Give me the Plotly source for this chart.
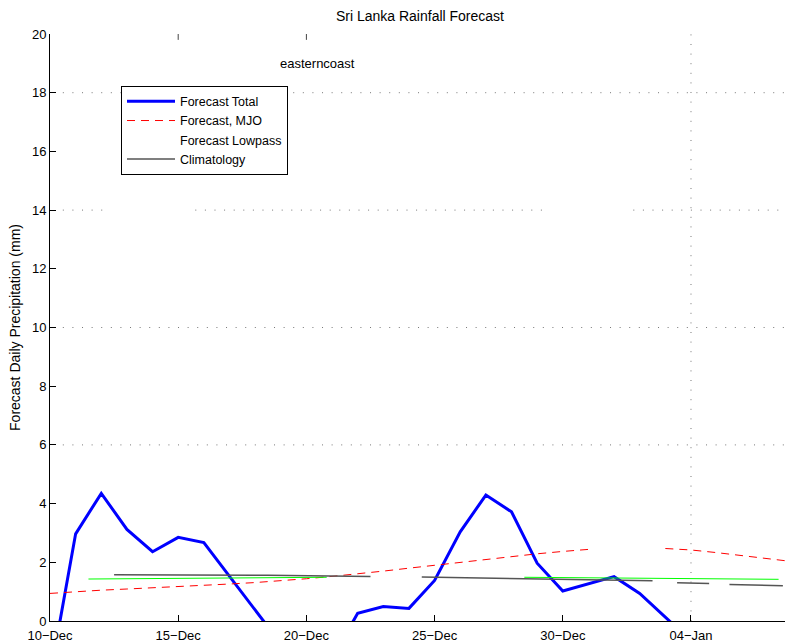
import pandas as pd
import plotly.graph_objects as go

# Daily forecast dates
dates = pd.date_range("2013-12-10", periods=30, freq="D")

# Forecast total daily precipitation (mm)
forecast_total = [-1.90, 2.97, 4.35, 3.12, 2.36, 2.85, 2.67, 1.53, 0.36, -0.77,
                  -1.50, -1.27, 0.26, 0.49, 0.43, 1.38, 3.04, 4.29, 3.72, 1.97,
                  1.02, 1.27, 1.51, 0.94, 0.12, -0.68, -1.10, -1.40, -1.60, -1.70]

# MJO component of the forecast (gaps where the curve was not drawn)
forecast_mjo = [0.94, 1.00, 1.05, 1.09, 1.13, 1.16, 1.21, 1.26, 1.31, 1.37,
                1.44, 1.52, 1.60, 1.70, 1.80, 1.90, 2.00, 2.10, 2.20, 2.29,
                2.37, 2.44, None, None, 2.47, 2.42, 2.33, 2.23, 2.12, 2.02]

# Low-pass forecast
lowpass_dates = ["2013-12-11 12:00", "2013-12-16 00:00", "2013-12-20 19:00", None,
                 "2013-12-28 12:00", "2014-01-03 06:00", "2014-01-07 10:00"]
lowpass_vals = [1.43, 1.46, 1.49, None, 1.49, 1.46, 1.42]

# Climatology
clim_dates = ["2013-12-12 12:00", "2013-12-18 12:00", "2013-12-22 12:00", None,
              "2013-12-24 12:00", "2013-12-28 12:00", "2014-01-02 12:00", None,
              "2014-01-03 11:00", "2014-01-04 17:00", None,
              "2014-01-05 12:00", "2014-01-07 14:00"]
clim_vals = [1.58, 1.56, 1.52, None, 1.50, 1.44, 1.37, None,
             1.30, 1.28, None, 1.24, 1.20]

tick_dates = ["2013-12-10", "2013-12-15", "2013-12-20", "2013-12-25", "2013-12-30", "2014-01-04"]
tick_text = ["10\u2212Dec", "15\u2212Dec", "20\u2212Dec", "25\u2212Dec", "30\u2212Dec", "04\u2212Jan"]

x_range = ["2013-12-10", "2014-01-07 16:00"]

# Dotted grid segments that are drawn: (value, start, end)
grid_h = [(18, "2013-12-10 12:00", x_range[1]),
          (14, "2013-12-10 12:00", "2013-12-12 02:00"),
          (14, "2013-12-15 16:00", "2013-12-29 04:30"),
          (14, "2014-01-01 18:00", x_range[1]),
          (10, "2013-12-10 12:00", x_range[1]),
          (6, "2013-12-10 12:00", x_range[1])]
grid_v = ["2014-01-04"]
# short tick marks along the top edge
top_ticks = ["2013-12-15", "2013-12-20"]

FONT = "Liberation Sans, Arial, Helvetica, sans-serif"

fig = go.Figure()

fig.add_trace(go.Scatter(x=dates, y=forecast_total, mode="lines", name="Forecast Total",
                         line=dict(color="#0000ff", width=3)))
fig.add_trace(go.Scatter(x=dates, y=forecast_mjo, mode="lines", name="Forecast, MJO",
                         line=dict(color="#ff0000", width=1, dash="8px,6px")))
fig.add_trace(go.Scatter(x=lowpass_dates, y=lowpass_vals, mode="lines", name="Forecast Lowpass",
                         line=dict(color="#00ff00", width=1), showlegend=False))
# legend entry for the low-pass curve (drawn without a sample line)
fig.add_trace(go.Scatter(x=[None], y=[None], mode="lines", name="Forecast Lowpass",
                         line=dict(color="rgba(255,255,255,0)", width=1)))
fig.add_trace(go.Scatter(x=clim_dates, y=clim_vals, mode="lines", name="Climatology",
                         line=dict(color="#555555", width=1.5)))

shapes = []
for val, x0, x1 in grid_h:
    shapes.append(dict(type="line", xref="x", yref="y", x0=x0, x1=x1, y0=val, y1=val,
                       line=dict(color="#777777", width=1, dash="1px,8.6px"), layer="below"))
for xv in grid_v:
    shapes.append(dict(type="line", xref="x", yref="y", x0=xv, x1=xv, y0=0, y1=20,
                       line=dict(color="#777777", width=1, dash="1px,8.6px"), layer="below"))
for xv in top_ticks:
    shapes.append(dict(type="line", xref="x", yref="y", x0=xv, x1=xv, y0=19.8, y1=20,
                       line=dict(color="#444444", width=1)))

fig.update_layout(
    width=785, height=644,
    margin=dict(l=50, r=0, t=34, b=23),
    paper_bgcolor="white", plot_bgcolor="white",
    font=dict(family=FONT, size=13, color="black"),
    title=dict(text="Sri Lanka Rainfall Forecast", x=0.535, xanchor="center",
               y=0.975, yanchor="middle", font=dict(size=14)),
    showlegend=True,
    legend=dict(x=0.0966, y=0.912, xanchor="left", yanchor="top",
                bordercolor="black", borderwidth=1, bgcolor="white",
                font=dict(size=12.5), tracegroupgap=0, itemwidth=48),
    shapes=shapes,
    annotations=[dict(text="easterncoast", x="2013-12-18 21:00", y=19.0, xref="x", yref="y",
                      xanchor="left", yanchor="middle", showarrow=False, font=dict(size=13))],
)

fig.update_xaxes(range=x_range, tickvals=tick_dates, ticktext=tick_text,
                 showgrid=False, zeroline=False, showline=True, linecolor="black", linewidth=1,
                 ticks="inside", ticklen=6, tickcolor="black", tickfont=dict(size=13),
                 ticklabelstandoff=2)
fig.update_yaxes(range=[0, 20], tickvals=list(range(0, 21, 2)),
                 title=dict(text="Forecast Daily Precipitation (mm)", font=dict(size=14), standoff=8),
                 showgrid=False, zeroline=False, showline=True, linecolor="black", linewidth=1,
                 ticks="inside", ticklen=6, tickcolor="black", tickfont=dict(size=13))

fig.write_html("out.html")
